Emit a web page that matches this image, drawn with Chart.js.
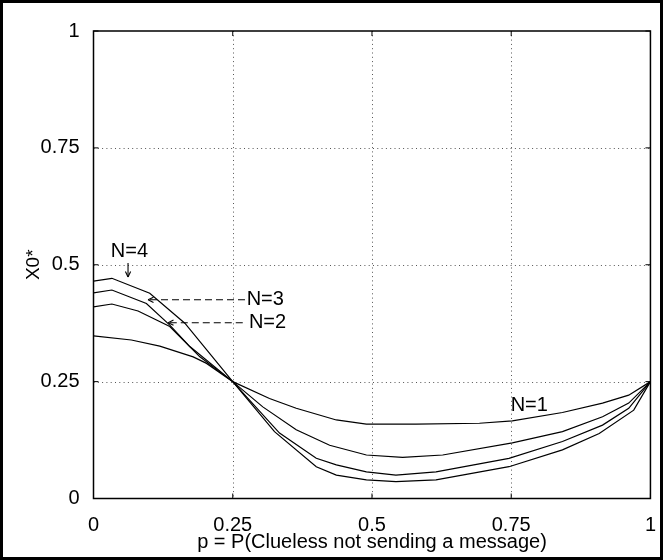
<!DOCTYPE html>
<html lang="en">
<head>
<meta charset="UTF-8">
<title>X0* against p</title>
<style>
  html, body { margin: 0; padding: 0; background: #fff; }
  #chartCont { width: 663px; height: 560px; }
</style>
</head>
<body>
<div id="chartCont"><canvas id="myChart" width="663" height="560"></canvas></div>
<script src="https://cdn.jsdelivr.net/npm/chart.js"></script>
<script>
// values (p, X0*) for each N
const n1P = [0, 0.068, 0.119, 0.179, 0.203, 0.25, 0.316, 0.364, 0.436, 0.490, 0.579, 0.693, 0.752, 0.842, 0.914, 0.961, 1]
const n1X = [0.348, 0.339, 0.326, 0.303, 0.289, 0.25, 0.214, 0.193, 0.168, 0.159, 0.159, 0.161, 0.166, 0.184, 0.204, 0.221, 0.25]

const n2P = [0, 0.033, 0.080, 0.137, 0.191, 0.25, 0.304, 0.364, 0.424, 0.490, 0.555, 0.627, 0.752, 0.842, 0.914, 0.961, 1]
const n2X = [0.410, 0.416, 0.401, 0.368, 0.303, 0.25, 0.196, 0.147, 0.114, 0.093, 0.088, 0.093, 0.119, 0.143, 0.175, 0.204, 0.25]

const n3P = [0, 0.033, 0.095, 0.137, 0.173, 0.25, 0.334, 0.400, 0.436, 0.490, 0.543, 0.615, 0.746, 0.842, 0.914, 0.961, 1]
const n3X = [0.440, 0.446, 0.417, 0.371, 0.325, 0.25, 0.140, 0.086, 0.072, 0.057, 0.050, 0.057, 0.086, 0.122, 0.157, 0.193, 0.25]

const n4P = [0, 0.033, 0.101, 0.164, 0.25, 0.325, 0.400, 0.436, 0.490, 0.543, 0.615, 0.746, 0.842, 0.908, 0.970, 1]
const n4X = [0.465, 0.471, 0.439, 0.375, 0.25, 0.143, 0.068, 0.050, 0.040, 0.036, 0.040, 0.068, 0.104, 0.139, 0.189, 0.25]

const xTicks = [0, 0.25, 0.5, 0.75, 1]
const xTickLabels = ['0', '0.25', '0.5', '0.75', '1']
const yTicks = [0, 0.25, 0.5, 0.75, 1]
const yTickLabels = ['0', '0.25', '0.5', '0.75', '1']

const fontFam = "'Liberation Sans', Arial, Helvetica, sans-serif"
Chart.defaults.font.family = fontFam
Chart.defaults.color = '#000'

function pts(ps, xs) {
    return ps.map((p, i) => ({x: p, y: xs[i]}))
}

// labels put on the curves, placed in data units
const notes = [
    {text: 'N=4', x: 0.0645, y: 0.529, align: 'center', arrow: {x1: 0.062, y1: 0.504, x2: 0.062, y2: 0.474, dashed: false}},
    {text: 'N=3', x: 0.275, y: 0.425, align: 'left', arrow: {x1: 0.272, y1: 0.425, x2: 0.098, y2: 0.425, dashed: true}},
    {text: 'N=2', x: 0.279, y: 0.376, align: 'left', arrow: {x1: 0.268, y1: 0.376, x2: 0.134, y2: 0.376, dashed: true}},
    {text: 'N=1', x: 0.749, y: 0.199, align: 'left'}
]

function line(ctx, a, b, c, d) {
    ctx.beginPath(); ctx.moveTo(a, b); ctx.lineTo(c, d); ctx.stroke()
}

const matlabAxes = {
    id: 'matlabAxes',
    beforeDatasetsDraw(chart) {
        const {ctx, chartArea: a, scales: {x, y}} = chart
        ctx.save()
        ctx.strokeStyle = '#555'
        ctx.lineWidth = 1
        ctx.setLineDash([1, 3.3])
        xTicks.slice(1, -1).forEach(v => {
            const px = Math.round(x.getPixelForValue(v)) + 0.5
            line(ctx, px, a.top, px, a.bottom)
        })
        yTicks.slice(1, -1).forEach(v => {
            const py = Math.round(y.getPixelForValue(v)) + 0.5
            line(ctx, a.left, py, a.right, py)
        })
        ctx.restore()
    },
    afterDatasetsDraw(chart) {
        const {ctx, chartArea: a, scales: {x, y}} = chart
        ctx.save()
        ctx.strokeStyle = '#000'
        ctx.lineWidth = 1.5
        ctx.strokeRect(a.left, a.top, a.right - a.left, a.bottom - a.top)
        // inward ticks
        ctx.lineWidth = 1
        const tl = 5
        xTicks.forEach(v => {
            const px = x.getPixelForValue(v)
            line(ctx, px, a.bottom, px, a.bottom - tl)
            line(ctx, px, a.top, px, a.top + tl)
        })
        yTicks.forEach(v => {
            const py = y.getPixelForValue(v)
            line(ctx, a.left, py, a.left + tl, py)
            line(ctx, a.right, py, a.right - tl, py)
        })
        // annotations
        ctx.font = '20px ' + fontFam
        ctx.fillStyle = '#000'
        ctx.textBaseline = 'middle'
        notes.forEach(n => {
            ctx.textAlign = n.align
            ctx.fillText(n.text, x.getPixelForValue(n.x), y.getPixelForValue(n.y))
            if (n.arrow) {
                const r = n.arrow
                const x1 = x.getPixelForValue(r.x1), y1 = y.getPixelForValue(r.y1)
                const x2 = x.getPixelForValue(r.x2), y2 = y.getPixelForValue(r.y2)
                ctx.lineWidth = 1.1
                ctx.setLineDash(r.dashed ? [7, 4] : [])
                line(ctx, x1, y1, x2, y2)
                ctx.setLineDash([])
                const ang = Math.atan2(y2 - y1, x2 - x1)
                const hl = 6
                ;[-0.45, 0.45].forEach(d => {
                    line(ctx, x2, y2, x2 - hl * Math.cos(ang + d), y2 - hl * Math.sin(ang + d))
                })
            }
        })
        // outer frame of the figure
        ctx.lineWidth = 3
        ctx.strokeRect(1.5, 1.5, chart.width - 3, chart.height - 3)
        ctx.restore()
    }
}

const series = [[n1P, n1X], [n2P, n2X], [n3P, n3X], [n4P, n4X]]

const config = {
    type: 'line',
    data: {
        datasets: series.map((s, i) => ({
            label: 'N=' + (i + 1),
            data: pts(s[0], s[1]),
            borderColor: '#000',
            borderWidth: 1.2,
            pointRadius: 0,
            tension: 0,
            fill: false
        }))
    },
    plugins: [matlabAxes],
    options: {
        responsive: false,
        animation: false,
        layout: {padding: {left: 0, right: 11.5, top: 31, bottom: 0}},
        plugins: {legend: {display: false}, tooltip: {enabled: false}},
        scales: {
            x: {
                type: 'linear', min: 0, max: 1,
                grid: {display: false},
                border: {display: false},
                afterBuildTicks: s => { s.ticks = xTicks.map(v => ({value: v})) },
                ticks: {
                    padding: 7, maxRotation: 0, autoSkip: false,
                    font: {size: 20},
                    callback: (v, i) => xTickLabels[i]
                },
                title: {
                    display: true,
                    text: 'p = P(Clueless not sending a message)',
                    font: {size: 20},
                    padding: {top: 0, bottom: 6}
                },
                afterFit: s => { s.height = 61.5 }
            },
            y: {
                type: 'linear', min: 0, max: 1,
                grid: {display: false},
                border: {display: false},
                afterBuildTicks: s => { s.ticks = yTicks.map(v => ({value: v})) },
                ticks: {
                    padding: 6, autoSkip: false,
                    font: {size: 20},
                    callback: (v, i) => yTickLabels[i]
                },
                title: {
                    display: true,
                    text: 'X0*',
                    font: {size: 19},
                    padding: {top: 22.5, bottom: 0}
                },
                afterFit: s => { s.width = 93.5 }
            }
        }
    }
}

const myChart = new Chart(document.getElementById('myChart'), config)
</script>
</body>
</html>
